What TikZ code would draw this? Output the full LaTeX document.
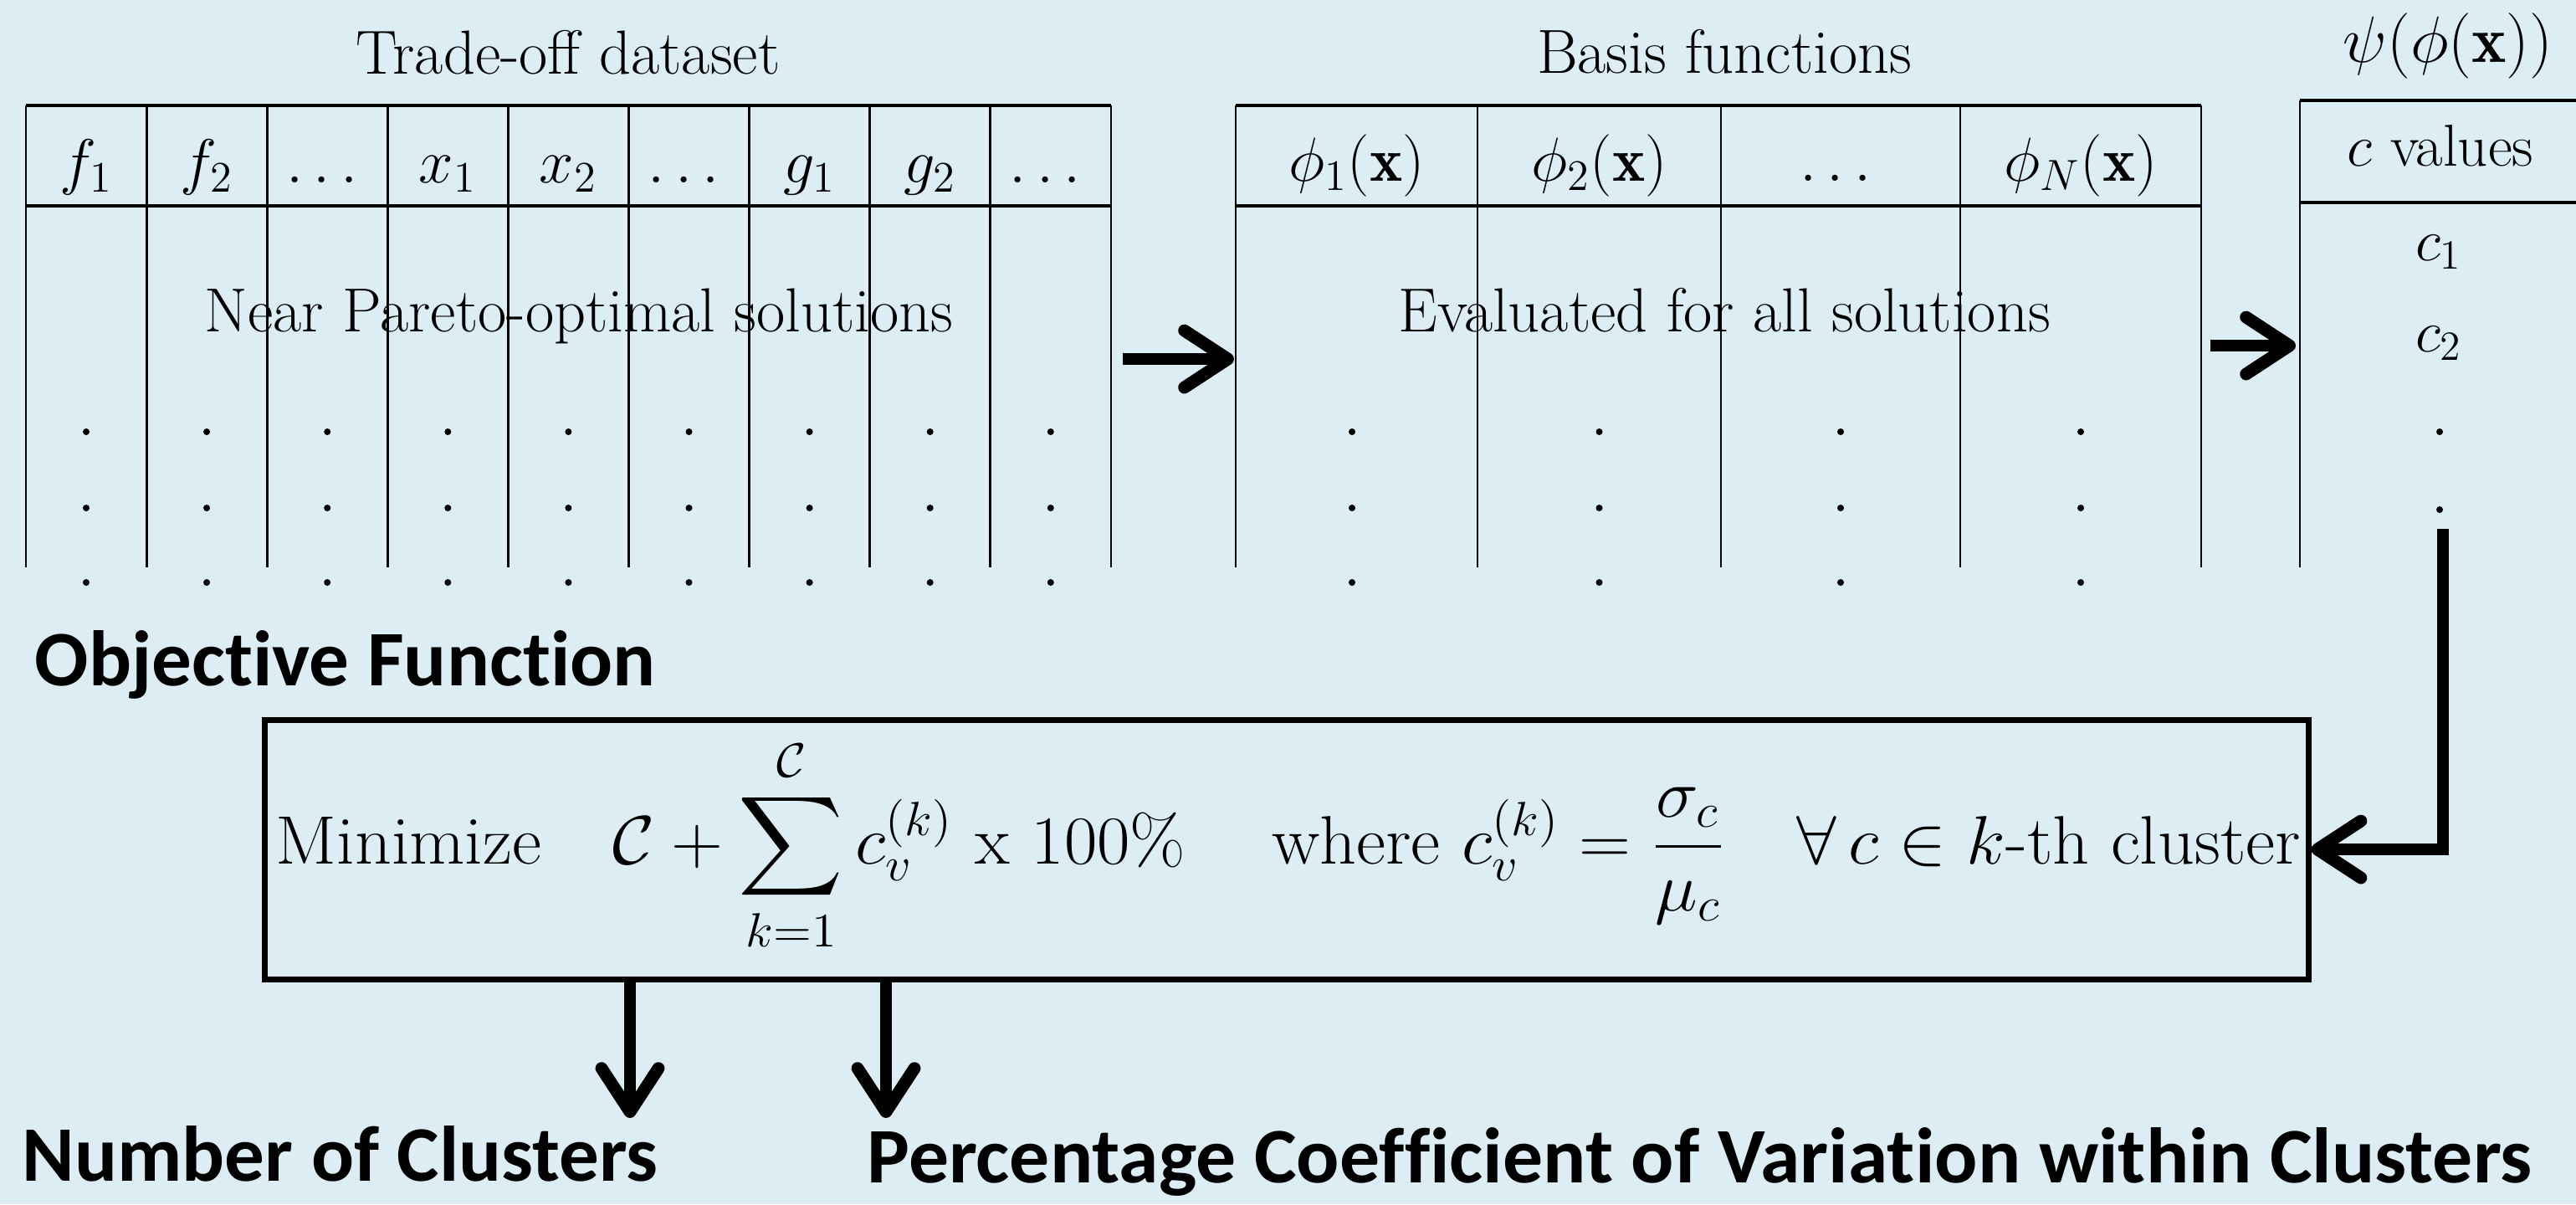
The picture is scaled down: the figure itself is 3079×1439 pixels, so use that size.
\RequirePackage{fix-cm}
\documentclass[tikz,border=0pt]{standalone}
\usepackage{amsmath}
\usepackage{graphicx}
\usepackage{fontspec}
\newfontfamily\calib{Carlito}[Ligatures=NoCommon]
\usetikzlibrary{arrows.meta}
\definecolor{bgc}{RGB}{220,238,244}
\begin{document}
\begin{tikzpicture}[x=0.25pt,y=-0.25pt,
  tbl/.style={line width=0.7pt},
  hrule/.style={line width=1pt},
  txt/.style={inner sep=0pt, anchor=base, font=\fontsize{18.6pt}{22pt}\selectfont},
  txtc/.style={inner sep=0pt, anchor=base, font=\fontsize{17.7pt}{21pt}\selectfont},
  lbl/.style={inner sep=0pt, anchor=base west, font=\calib\bfseries\fontsize{23.5pt}{28pt}\selectfont},
  arr/.style={line width=3.7pt, -{Straight Barb[length=13pt,width=17pt,round]}},
  dotr/.style={radius=1pt}]
\fill[bgc] (0,0) rectangle (3079,1439);
\useasboundingbox (0,0) rectangle (3079,1439);

% ---- table 1
\node[txt] (title1) at (679,88) {Trade-off dataset};
\draw[hrule] (31,126) -- (1328,126);
\draw[hrule] (31,246) -- (1328,246);
\foreach \i in {0,...,9} \draw[tbl] ({31+144.1*\i},126) -- ({31+144.1*\i},678);
\foreach \t [count=\i from 0] in {$f_1$,$f_2$,$\dots$,$x_1$,$x_2$,$\dots$,$g_1$,$g_2$,$\dots$}
  \node[txt] (ha\i) at ({103+144.1*\i},218) {\t};
\node[txt] (body1) at (692,396) {Near Pareto-optimal solutions};
\foreach \i in {0,...,8} \foreach \yy in {516,607,696}
  \fill ({103+144.1*\i},\yy) circle[dotr];

% ---- table 2
\node[txt] (title2) at (2061,87) {Basis functions};
\draw[hrule] (1477,126) -- (2631,126);
\draw[hrule] (1477,246) -- (2631,246);
\foreach \xx in {1477,1766,2057,2343,2631} \draw[tbl] (\xx,126) -- (\xx,678);
\node[txt] (hb1) at (1621.5,216) {$\phi_1(\mathbf{x})$};
\node[txt] (hb2) at (1911.5,216) {$\phi_2(\mathbf{x})$};
\node[txt] (hb3) at (2200,216) {$\dots$};
\node[txt] (hb4) at (2487,216) {$\phi_N(\mathbf{x})$};
\node[txt] (body2) at (2061,396) {Evaluated for all solutions};
\foreach \xx in {1616,1911.5,2200,2487} \foreach \yy in {516,607,696}
  \fill (\xx,\yy) circle[dotr];

% ---- table 3
\node[inner sep=0pt, anchor=base west, font=\fontsize{19.6pt}{23pt}\selectfont] (psi) at (2800,74) {$\psi(\phi(\mathbf{x}))$};
\draw[hrule] (2749,120) -- (3079,120);
\draw[hrule] (2749,242) -- (3079,242);
\draw[tbl] (2749,120) -- (2749,678);
\node[txtc] (hc) at (2917,198) {$c$ values};
\node[txtc] (c1) at (2915,311) {$c_1$};
\node[txtc] (c2) at (2915,420) {$c_2$};
\fill (2916,516) circle[dotr];
\fill (2916,609) circle[dotr];

% ---- arrows between tables
\coordinate (a1s) at (1342,429);
\coordinate (a1e) at (1475,429);
\draw[arr] (a1s) -- (a1e);
\coordinate (a2s) at (2642,413);
\coordinate (a2e) at (2744,413);
\draw[arr] (a2s) -- (a2e);

% ---- objective
\node[lbl] (objlbl) at (41,819) {\resizebox{185.5pt}{\height}{Objective Function}};
\node[draw, line width=1.75pt, minimum width=610.75pt, minimum height=77.5pt, inner sep=0pt] (obj) at (1537.5,1015) {};
\node[inner sep=0pt, anchor=base west, font=\fontsize{20.5pt}{24pt}\selectfont] (form) at (329,1032)
  {\resizebox{605pt}{\height}{$\displaystyle \text{Minimize}\quad \mathcal{C}+\sum_{k=1}^{\mathcal{C}} c_v^{(k)}\ \mathrm{x}\ 100\%\hspace{1.2em}\text{where }c_v^{(k)}=\frac{\sigma_c}{\mu_c}\quad\forall\, c\in k\text{-th cluster}$}};

\coordinate (cst) at (2920,632);
\draw[arr] (cst) |- (obj.east);

\coordinate (n1) at (753,1336);
\coordinate (n2) at (1059,1336);
\draw[arr] (obj.south -| n1) -- (n1);
\draw[arr] (obj.south -| n2) -- (n2);

\node[lbl] (ncl) at (26,1411) {\resizebox{190pt}{\height}{Number of Clusters}};
\node[lbl] (pcv) at (1036,1413) {\resizebox{497.5pt}{\height}{Percentage Coefficient of Variation within Clusters}};
\end{tikzpicture}
\end{document}
